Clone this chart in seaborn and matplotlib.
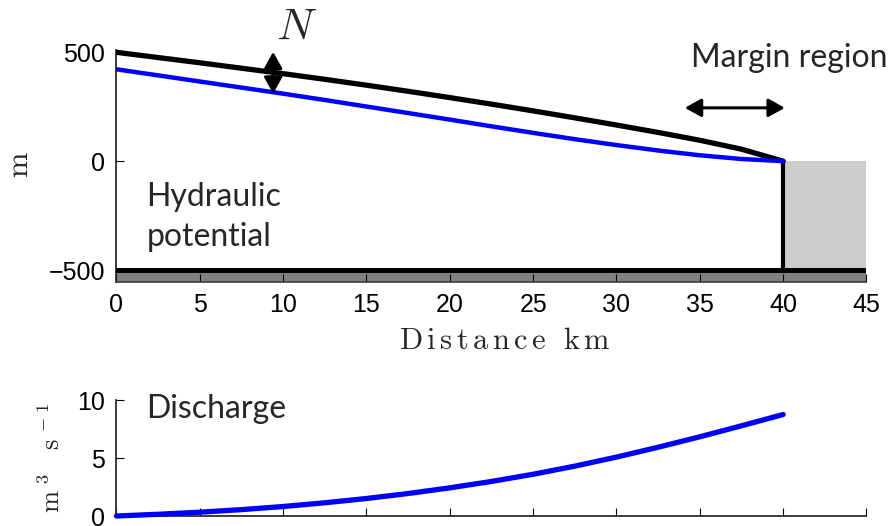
import matplotlib
matplotlib.use('Agg')
import matplotlib.pyplot as plt
import seaborn as sns

# values
dist_km = [0, 2.5, 5, 7.5, 10, 12.5, 15, 17.5, 20, 22.5, 25, 27.5, 30, 32.5, 35, 37.5, 40]
surface_m = [500, 476, 452, 427, 402, 376, 349, 321, 292, 262, 231, 199, 166, 132, 96, 55, 0]
water_m = [422, 394, 366, 338, 310, 281, 251, 221, 191, 160, 130, 101, 74, 49, 27, 10, 0]

q_km = [0, 2.5, 5, 7.5, 10, 12.5, 15, 17.5, 20, 22.5, 25, 27.5, 30, 32.5, 35, 37.5, 40]
discharge = [0, 0.15, 0.33, 0.55, 0.82, 1.14, 1.51, 1.94, 2.43, 2.98, 3.6, 4.3, 5.08, 5.93, 6.83, 7.78, 8.75]

x_ticks = [0, 5, 10, 15, 20, 25, 30, 35, 40, 45]
top_yticks = [-500, 0, 500]
bot_yticks = [0, 5, 10]

sns.set_theme(style="ticks")
plt.rcParams['font.family'] = ['Liberation Sans', 'DejaVu Sans']
plt.rcParams['mathtext.fontset'] = 'cm'

fig = plt.figure(figsize=(8.92, 5.26), dpi=100)
ax = fig.add_axes([0.1306, 0.4639, 0.8408, 0.4449])
ax2 = fig.add_axes([0.1306, 0.019, 0.8408, 0.2205])

arrow_style = '<|-|>,head_length=0.45,head_width=0.25'

# --- top panel: hydraulic potential
ax.axhspan(-560, -512, color='#808080', lw=0, zorder=0)
ax.fill_between([40, 45], -500, 0, color='#cccccc', lw=0, zorder=1)
sns.lineplot(x=dist_km, y=surface_m, ax=ax, color='black', linewidth=3.8, zorder=3)
sns.lineplot(x=dist_km, y=water_m, ax=ax, color='#0000ff', linewidth=3.2, zorder=4)
ax.vlines(40, -500, 0, color='black', lw=3.0, zorder=3)
ax.axhline(-500, color='black', lw=3.6, zorder=3)

ax.set_xlim(0, 45)
ax.set_ylim(-555, 520)
ax.set_xticks(x_ticks)
ax.set_yticks(top_yticks)
ax.set_yticklabels(['\u2212500', '0', '500'])
for s in ['top', 'right']:
    ax.spines[s].set_visible(False)
ax.spines['left'].set_bounds(-555, 512)
ax.spines['bottom'].set_color('#404040')
ax.tick_params(direction='in', length=6, width=0.8, labelsize=18, pad=8, colors='black')

ax.set_ylabel(r'$\mathrm{m}$', fontsize=22)
ax.yaxis.set_label_coords(-0.109, 0.5)
ax.set_xlabel(r'$\mathrm{D\,i\,s\,t\,a\,n\,c\,e\ \ k\,m}$', fontsize=22)
ax.xaxis.set_label_coords(0.518, -0.19)

ax.text(1.8, -204, 'Hydraulic', family='Lato', fontsize=23, va='baseline')
ax.text(1.8, -388, 'potential', family='Lato', fontsize=23, va='baseline')
ax.text(34.5, 431, 'Margin region', family='Lato', fontsize=23, va='baseline', clip_on=False)
ax.text(10.8, 557, r'$N$', fontsize=32, ha='center', va='baseline', clip_on=False)

ax.annotate('', xy=(9.4, 502), xytext=(9.4, 310),
            arrowprops=dict(arrowstyle=arrow_style, color='black', lw=2.2, mutation_scale=22,
                            shrinkA=0, shrinkB=0), zorder=5)
ax.annotate('', xy=(34.1, 245), xytext=(40.1, 245),
            arrowprops=dict(arrowstyle=arrow_style, color='black', lw=2.2, mutation_scale=22,
                            shrinkA=0, shrinkB=0), zorder=5)

# --- bottom panel: discharge
sns.lineplot(x=q_km, y=discharge, ax=ax2, color='#0000ff', linewidth=3.8, clip_on=False, zorder=4)
ax2.set_xlim(0, 45)
ax2.set_ylim(0, 10)
ax2.set_xticks(x_ticks)
ax2.set_xticklabels([])
ax2.set_yticks(bot_yticks)
for s in ['top', 'right']:
    ax2.spines[s].set_visible(False)
ax2.tick_params(direction='in', length=6, width=0.8, labelsize=18, pad=8, colors='black')
ax2.set_ylabel(r'$\mathrm{m}\;^{3}\quad\mathrm{s}\;^{-\;1}$', fontsize=19)
ax2.yaxis.set_label_coords(-0.069, 0.5)
ax2.text(1.8, 8.45, 'Discharge', family='Lato', fontsize=23, va='baseline')

fig.savefig('out.png', dpi=100)
